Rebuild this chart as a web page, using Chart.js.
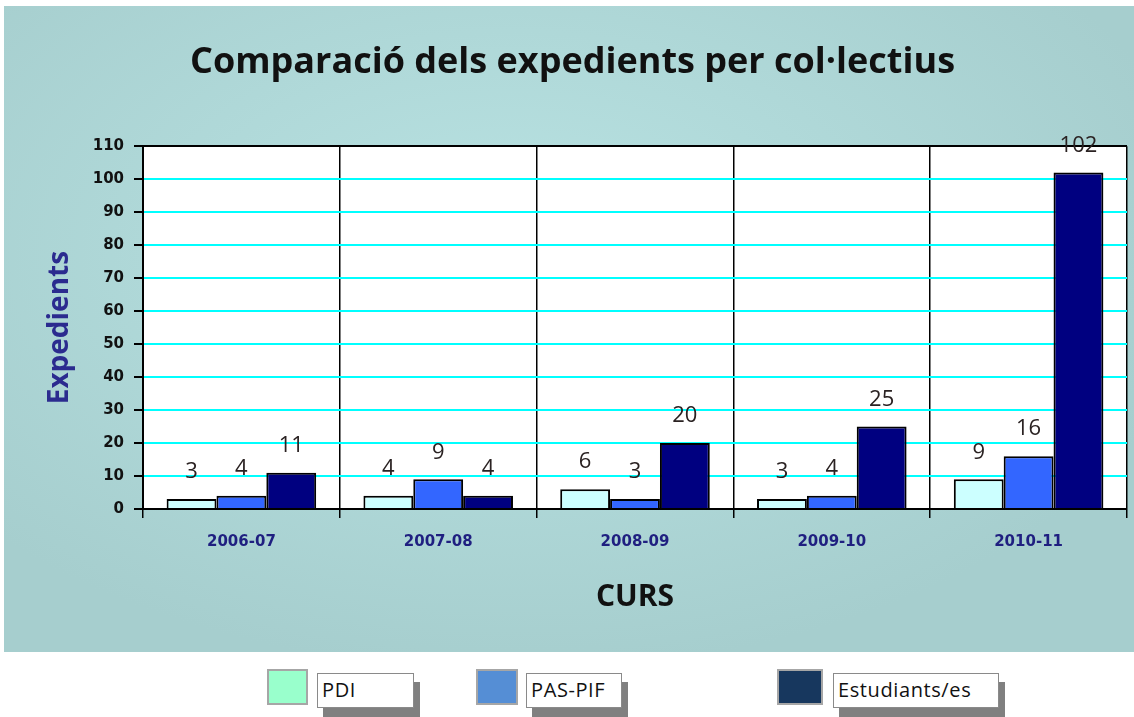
<!DOCTYPE html>
<html>
<head>
<meta charset="utf-8">
<title>Comparació dels expedients per col·lectius</title>
<script src="https://cdn.jsdelivr.net/npm/chart.js@4.4.0/dist/chart.umd.min.js"></script>
<style>
  body { margin: 0; width: 1134px; height: 717px; overflow: hidden; position: relative; background: #fff; font-family: "Open Sans", sans-serif; }
  #panel { position: absolute; left: 4px; top: 6px; width: 1130px; height: 646px;
           background: radial-gradient(ellipse 62% 65% at 45% 38%, #b9e3e3 0%, #a6cece 100%); }
  #chart { position: absolute; left: 0; top: 0; }
  .sw { position: absolute; top: 669px; height: 32px; border: 2px solid #a6a6a6; }
  .lb { position: absolute; top: 673px; height: 35px; box-sizing: border-box; border: 1px solid #8a8a8a;
        background: #fff; box-shadow: 6px 9px 0 #808080; font-size: 20px; line-height: 32px;
        padding-left: 4px; letter-spacing: 0.6px; color: #111; }
</style>
</head>
<body>
<div id="panel"></div>
<canvas id="chart" width="1134" height="652"></canvas>
<div id="legend"></div>
<script>
// data
const cursos = ['2006-07', '2007-08', '2008-09', '2009-10', '2010-11'];
const pdi = [3, 4, 6, 3, 9];
const pasPif = [4, 9, 3, 4, 16];
const estudiants = [11, 4, 20, 25, 102];
const seriesNames = ['PDI', 'PAS-PIF', 'Estudiants/es'];

const barColors = ['#ccffff', '#3366ff', '#000080'];
const legendColors = ['#99ffcc', '#558ed5', '#17375e'];

// legend boxes below the panel (same look as the original)
const legendPos = [
  { sw: 267, swW: 37, lb: 317, lbW: 97 },
  { sw: 476, swW: 38, lb: 526, lbW: 96 },
  { sw: 777, swW: 42, lb: 833, lbW: 166 }
];
const legendEl = document.getElementById('legend');
seriesNames.forEach((name, i) => {
  const p = legendPos[i];
  const sw = document.createElement('div');
  sw.className = 'sw';
  sw.style.left = p.sw + 'px';
  sw.style.width = p.swW + 'px';
  sw.style.background = legendColors[i];
  const lb = document.createElement('div');
  lb.className = 'lb';
  lb.style.left = p.lb + 'px';
  lb.style.width = p.lbW + 'px';
  lb.textContent = name;
  legendEl.appendChild(sw);
  legendEl.appendChild(lb);
});

// white plot area
const plotBg = {
  id: 'plotBg',
  beforeDraw(chart) {
    const { ctx, chartArea: a } = chart;
    ctx.save();
    ctx.fillStyle = '#fff';
    ctx.fillRect(a.left, a.top, a.right - a.left, a.bottom - a.top);
    ctx.restore();
  }
};

// value labels over bars
const valueLabels = {
  id: 'valueLabels',
  afterDatasetsDraw(chart) {
    const ctx = chart.ctx;
    ctx.save();
    ctx.font = '400 22px "Open Sans"';
    ctx.fillStyle = '#2a2222';
    ctx.textAlign = 'center';
    ctx.textBaseline = 'middle';
    chart.data.datasets.forEach((ds, i) => {
      chart.getDatasetMeta(i).data.forEach((bar, j) => {
        ctx.fillText(ds.data[j], bar.x, bar.y - 27);
      });
    });
    ctx.restore();
  }
};

const seriesData = [pdi, pasPif, estudiants];

new Chart(document.getElementById('chart'), {
  type: 'bar',
  data: {
    labels: cursos,
    datasets: seriesNames.map((name, i) => ({
      label: name,
      data: seriesData[i],
      backgroundColor: barColors[i],
      borderColor: '#000',
      borderWidth: 2,
      categoryPercentage: 0.76,
      barPercentage: 1.0
    }))
  },
  options: {
    responsive: false,
    animation: false,
    layout: { padding: { left: 18, right: 7, top: 0, bottom: 0 } },
    plugins: {
      legend: { display: false },
      tooltip: { enabled: false },
      title: {
        display: true,
        text: 'Comparació dels expedients per col·lectius',
        color: '#111',
        font: { family: 'Open Sans', weight: 'bold', size: 36 },
        padding: { top: 41, bottom: 62 }
      }
    },
    scales: {
      x: {
        ticks: { color: '#1f1f80', font: { family: 'DejaVu Sans', weight: 'bold', size: 15 }, padding: 15 },
        grid: { offset: true, color: '#000', lineWidth: 1.5, tickLength: 9 },
        border: { color: '#000', width: 2 },
        title: {
          display: true, text: 'CURS', color: '#111',
          font: { family: 'Open Sans', weight: 'bold', size: 30 },
          padding: { top: 0, bottom: 37 }
        },
        afterFit(s) { s.height = 143; }
      },
      y: {
        min: 0,
        max: 110,
        ticks: { stepSize: 10, color: '#111', font: { family: 'DejaVu Sans', weight: 'bold', size: 15 }, padding: 10 },
        grid: {
          color: c => (c.tick && c.tick.value === 110) ? '#000' : '#00ffff',
          lineWidth: 2,
          tickColor: '#000',
          tickLength: 9
        },
        border: { color: '#000', width: 2 },
        title: {
          display: true, text: 'Expedients', color: '#2b2b8f',
          font: { family: 'Open Sans', weight: 'bold', size: 28 },
          padding: { top: 25, bottom: 0 }
        },
        afterFit(s) { s.width = 125; }
      }
    }
  },
  plugins: [plotBg, valueLabels]
});
</script>
</body>
</html>
